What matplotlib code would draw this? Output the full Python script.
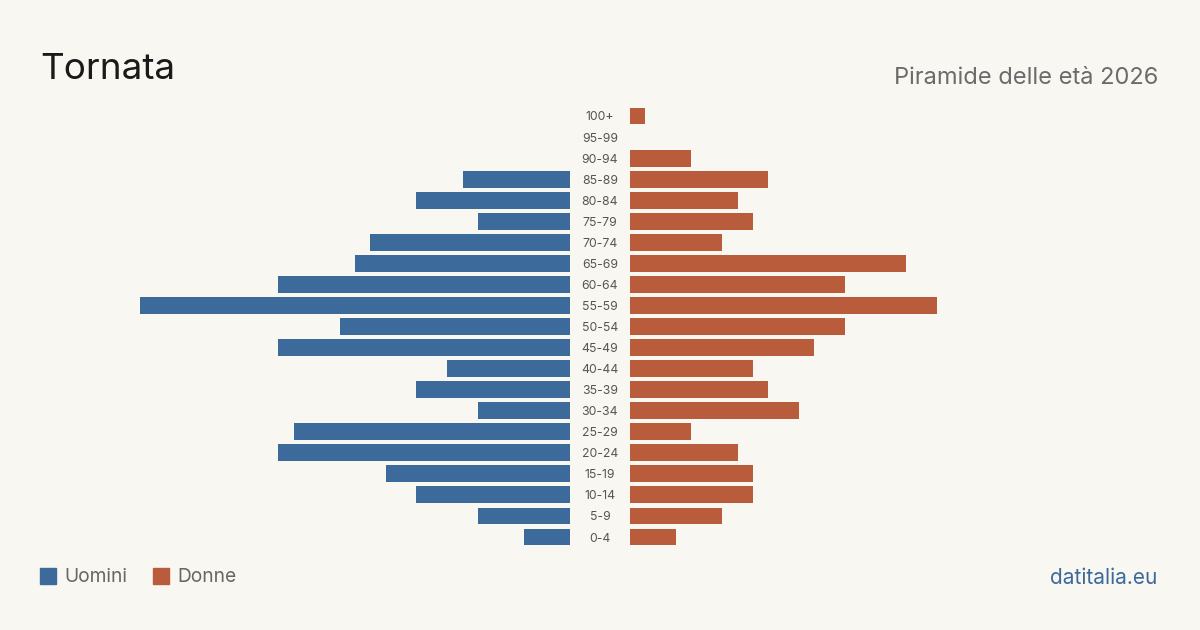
import matplotlib
matplotlib.use("Agg")
import matplotlib.pyplot as plt
from matplotlib.patches import Rectangle

ages = ["100+", "95-99", "90-94", "85-89", "80-84", "75-79", "70-74", "65-69",
        "60-64", "55-59", "50-54", "45-49", "40-44", "35-39", "30-34", "25-29",
        "20-24", "15-19", "10-14", "5-9", "0-4"]
men = [0, 0, 0, 7, 10, 6, 13, 14, 19, 28, 15, 19, 8, 10, 6, 18, 19, 12, 10, 6, 3]
women = [1, 0, 4, 9, 7, 8, 6, 18, 14, 20, 14, 12, 8, 9, 11, 4, 7, 8, 8, 6, 3]

BG = "#f9f7f2"
BLUE = "#3b6a9b"
ORANGE = "#b95c3c"
FONT = ["Inter", "DejaVu Sans"]

W, H = 1200, 630
fig = plt.figure(figsize=(12, 6.3), dpi=100, facecolor=BG)

# axes geometry in pixels
top_px = 116 - 21.05 / 2
bot_px = 537 + 21.05 / 2
axl = fig.add_axes([140 / W, 1 - bot_px / H, (570 - 140) / W, (bot_px - top_px) / H])
axr = fig.add_axes([630 / W, 1 - bot_px / H, (1060 - 630) / W, (bot_px - top_px) / H])

n = len(ages)
ypos = list(range(n))
for ax in (axl, axr):
    ax.set_facecolor("none")
    ax.set_ylim(n - 0.5, -0.5)
    ax.axis("off")

axl.barh(ypos, men, height=0.8, color=BLUE)
axl.set_xlim(28, 0)
axr.barh(ypos, women, height=0.8, color=ORANGE)
axr.set_xlim(0, 28)

for i, a in enumerate(ages):
    y = 117.5 + i * 21.05
    fig.text(600 / W, 1 - y / H, a, ha="center", va="center", fontsize=8.8,
             color="#555555", family=FONT)

fig.text(40 / W, 1 - 69.5 / H, "Tornata", ha="left", va="center", fontsize=26.5,
         color="#1a1a1a", family=FONT)
fig.text(1158 / W, 1 - 78 / H, "Piramide delle età 2026", ha="right", va="center",
         fontsize=17, color="#6b6b6b", family=FONT)

# legend
fig.patches.append(Rectangle((40 / W, 1 - 584 / H), 16 / W, 16 / H,
                             transform=fig.transFigure, color=BLUE, figure=fig))
fig.text(64 / W, 1 - 577.5 / H, "Uomini", ha="left", va="center", fontsize=13.8,
         color="#666666", family=FONT)
fig.patches.append(Rectangle((153 / W, 1 - 584 / H), 16 / W, 16 / H,
                             transform=fig.transFigure, color=ORANGE, figure=fig))
fig.text(177 / W, 1 - 577.5 / H, "Donne", ha="left", va="center", fontsize=13.8,
         color="#666666", family=FONT)

fig.text(1157 / W, 1 - 577.5 / H, "datitalia.eu", ha="right", va="center",
         fontsize=15, color=BLUE, family=FONT)

fig.savefig("out.png", dpi=100, facecolor=BG)
